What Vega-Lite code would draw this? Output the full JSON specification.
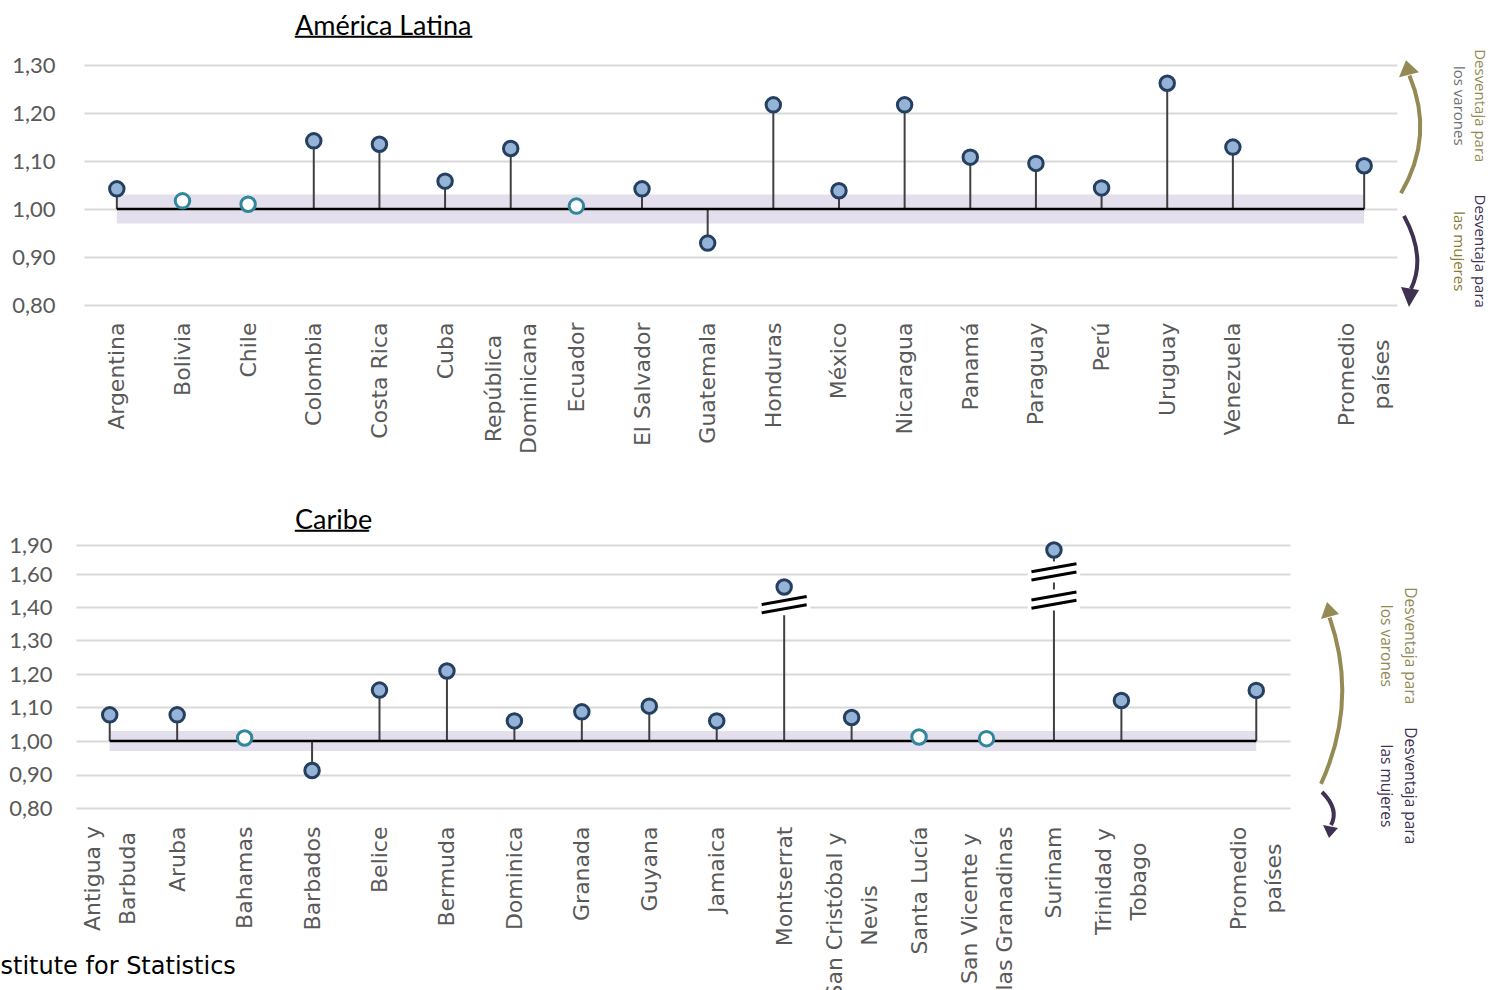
{
  "$schema": "https://vega.github.io/schema/vega-lite/v6.json",
  "padding": {"left": 0, "top": 12, "right": 0, "bottom": 0},
  "background": "white",
  "spacing": 52,
  "config": {
    "view": {"stroke": null},
    "axis": {"domain": false, "ticks": false, "labelColor": "#595959"},
    "axisY": {"grid": true, "gridColor": "#d9d9d9", "gridWidth": 2, "labelFont": "Lato", "labelFontSize": 22, "labelPadding": 29},
    "axisX": {"grid": false, "labelFont": "DejaVu Sans", "labelFontSize": 22, "labelAngle": -90, "labelLineHeight": 35},
    "title": {"font": "Lato", "fontSize": 27, "fontWeight": "normal", "color": "black", "anchor": "start", "frame": "group",
      "subtitleFont": "DejaVu Sans Mono", "subtitleFontSize": 24.5, "subtitleColor": "black", "subtitlePadding": -15}
  },
  "datasets": {
    "datos_al": [
      {"pais": "Argentina", "valor": 1.042},
      {"pais": "Bolivia", "valor": 1.017},
      {"pais": "Chile", "valor": 1.010},
      {"pais": "Colombia", "valor": 1.142},
      {"pais": "Costa Rica", "valor": 1.135},
      {"pais": "Cuba", "valor": 1.058},
      {"pais": "República Dominicana", "valor": 1.126},
      {"pais": "Ecuador", "valor": 1.006},
      {"pais": "El Salvador", "valor": 1.042},
      {"pais": "Guatemala", "valor": 0.929},
      {"pais": "Honduras", "valor": 1.217},
      {"pais": "México", "valor": 1.038},
      {"pais": "Nicaragua", "valor": 1.217},
      {"pais": "Panamá", "valor": 1.108},
      {"pais": "Paraguay", "valor": 1.095},
      {"pais": "Perú", "valor": 1.044},
      {"pais": "Uruguay", "valor": 1.262},
      {"pais": "Venezuela", "valor": 1.129},
      {"pais": "Promedio países", "valor": 1.090}
    ],
    "tramo_al": [{"desde": "Argentina", "hasta": "Promedio países", "inf": 0.97, "sup": 1.03}],
    "flechas_al": [{"sentido": "varones", "y": 1.158}, {"sentido": "mujeres", "y": 0.894}],
    "anot_al": [
      {"texto": "Desventaja para", "linea": 1, "tono": "oliva", "y": 1.215},
      {"texto": "los varones", "linea": 2, "tono": "gris", "y": 1.215},
      {"texto": "Desventaja para", "linea": 1, "tono": "morado", "y": 0.912},
      {"texto": "las mujeres", "linea": 2, "tono": "dorado", "y": 0.912}
    ],
    "datos_caribe": [
      {"pais": "Antigua y Barbuda", "valor": 1.078},
      {"pais": "Aruba", "valor": 1.078},
      {"pais": "Bahamas", "valor": 1.009},
      {"pais": "Barbados", "valor": 0.912},
      {"pais": "Belice", "valor": 1.152},
      {"pais": "Bermuda", "valor": 1.209},
      {"pais": "Dominica", "valor": 1.060},
      {"pais": "Granada", "valor": 1.087},
      {"pais": "Guyana", "valor": 1.104},
      {"pais": "Jamaica", "valor": 1.060},
      {"pais": "Montserrat", "valor": 1.521},
      {"pais": "San Cristóbal y Nevis", "valor": 1.070},
      {"pais": "Santa Lucía", "valor": 1.012},
      {"pais": "San Vicente y las Granadinas", "valor": 1.007},
      {"pais": "Surinam", "valor": 1.848},
      {"pais": "Trinidad y Tobago", "valor": 1.121},
      {"pais": "Promedio países", "valor": 1.151}
    ],
    "tramo_caribe": [{"desde": "Antigua y Barbuda", "hasta": "Promedio países", "inf": 0.97, "sup": 1.03}],
    "cortes_caribe": [
      {"pais": "Montserrat", "corte": 1.414},
      {"pais": "Surinam", "corte": 1.621},
      {"pais": "Surinam", "corte": 1.442}
    ],
    "flechas_caribe": [{"sentido": "varones", "y": 1.06}, {"sentido": "mujeres", "y": 0.8}],
    "anot_caribe": [
      {"texto": "Desventaja para", "linea": 1, "tono": "oliva", "y": 1.284},
      {"texto": "los varones", "linea": 2, "tono": "oliva", "y": 1.284},
      {"texto": "Desventaja para", "linea": 1, "tono": "morado", "y": 0.866},
      {"texto": "las mujeres", "linea": 2, "tono": "morado", "y": 0.866}
    ]
  },
  "vconcat": [
    {
      "spacing": 0,
      "bounds": "flush",
      "hconcat": [
        {
          "width": 1313,
          "height": 240,
          "title": {"text": "América Latina", "subtitle": "────────────", "dx": 211, "offset": 4},
          "encoding": {
            "x": {"type": "nominal", "sort": null,
              "scale": {"type": "point", "padding": 0.5, "domain": ["Argentina","Bolivia","Chile","Colombia","Costa Rica","Cuba","República Dominicana","Ecuador","El Salvador","Guatemala","Honduras","México","Nicaragua","Panamá","Paraguay","Perú","Uruguay","Venezuela"," ","Promedio países"]},
              "axis": {"title": null,
                "labelAlign": {"condition": {"test": "datum.value == 'República Dominicana' || datum.value == 'Promedio países'", "value": "center"}, "value": "right"},
                "labelOffset": {"condition": {"test": "datum.value == 'República Dominicana' || datum.value == 'Promedio países'", "value": -17.5}, "value": 0},
                "labelPadding": {"condition": [{"test": "datum.value == 'República Dominicana'", "value": 83}, {"test": "datum.value == 'Promedio países'", "value": 69}], "value": 17},
                "labelExpr": "(datum.label == 'República Dominicana' || datum.label == 'Promedio países') ? split(datum.label, ' ') : datum.label"}},
            "y": {"type": "quantitative",
              "scale": {"domain": [0.8, 1.3], "nice": false, "zero": false},
              "axis": {"title": null, "values": [0.8, 0.9, 1.0, 1.1, 1.2, 1.3], "labelExpr": "replace(format(datum.value, '.2f'), '.', ',')"}}
          },
          "layer": [
            {
              "data": {"name": "tramo_al"},
              "mark": {"type": "rect", "color": "#e4dfec"},
              "encoding": {"x": {"field": "desde"}, "x2": {"field": "hasta"}, "y": {"field": "inf"}, "y2": {"field": "sup"}}
            },
            {
              "data": {"name": "datos_al"},
              "mark": {"type": "rule", "color": "#404040", "strokeWidth": 2},
              "encoding": {"x": {"field": "pais"}, "y": {"field": "valor"}, "y2": {"datum": 1}}
            },
            {
              "data": {"name": "tramo_al"},
              "mark": {"type": "rule", "color": "black", "strokeWidth": 2.5},
              "encoding": {"x": {"field": "desde"}, "x2": {"field": "hasta"}, "y": {"datum": 1}}
            },
            {
              "data": {"name": "datos_al"},
              "mark": {"type": "point", "shape": "circle", "size": 210, "strokeWidth": 3, "opacity": 1},
              "encoding": {
                "x": {"field": "pais"},
                "y": {"field": "valor"},
                "fill": {"condition": {"test": "datum.valor >= 0.97 && datum.valor <= 1.03", "value": "white"}, "value": "#95b3d7"},
                "stroke": {"condition": {"test": "datum.valor >= 0.97 && datum.valor <= 1.03", "value": "#31859c"}, "value": "#243f60"}
              }
            }
          ]
        },
        {
          "width": 28,
          "height": 240,
          "encoding": {
            "y": {"field": "y", "type": "quantitative", "scale": {"domain": [0.8, 1.3], "nice": false, "zero": false}, "axis": null}
          },
          "layer": [
            {
              "data": {"name": "flechas_al"},
              "transform": [{"filter": "datum.sentido == 'varones'"}],
              "mark": {"type": "point", "shape": "M-0.125,0.75Q0.2975,0.035,-0.02,-0.72", "filled": false, "stroke": "#948a54", "strokeWidth": 4, "size": 25600, "opacity": 1}
            },
            {
              "data": {"name": "flechas_al"},
              "transform": [{"filter": "datum.sentido == 'varones'"}],
              "mark": {"type": "point", "shape": "M-0.0625,-0.9125L0.1,-0.7625L-0.15,-0.7Z", "filled": true, "fill": "#948a54", "strokeWidth": 0, "size": 25600, "opacity": 1}
            },
            {
              "data": {"name": "flechas_al"},
              "transform": [{"filter": "datum.sentido == 'mujeres'"}],
              "mark": {"type": "point", "shape": "M-0.0875,-0.55Q0.19375,-0.03125,0,0.3625", "filled": false, "stroke": "#403152", "strokeWidth": 4, "size": 25600, "opacity": 1}
            },
            {
              "data": {"name": "flechas_al"},
              "transform": [{"filter": "datum.sentido == 'mujeres'"}],
              "mark": {"type": "point", "shape": "M-0.025,0.5875L-0.125,0.3375L0.1,0.375Z", "filled": true, "fill": "#403152", "strokeWidth": 0, "size": 25600, "opacity": 1}
            },
            {
              "data": {"name": "anot_al"},
              "transform": [{"filter": "datum.linea == 1"}],
              "mark": {"type": "text", "angle": 90, "dy": -69, "font": "Open Sans", "fontSize": 15, "align": "center", "baseline": "middle"},
              "encoding": {
                "text": {"field": "texto"},
                "color": {"field": "tono", "type": "nominal", "legend": null, "scale": {"domain": ["oliva", "gris", "morado", "dorado"], "range": ["#948a54", "#6f6f6f", "#403152", "#8a7a30"]}}
              }
            },
            {
              "data": {"name": "anot_al"},
              "transform": [{"filter": "datum.linea == 2"}],
              "mark": {"type": "text", "angle": 90, "dy": -48, "font": "Open Sans", "fontSize": 15, "align": "center", "baseline": "middle"},
              "encoding": {
                "text": {"field": "texto"},
                "color": {"field": "tono", "type": "nominal", "legend": null}
              }
            }
          ]
        }
      ]
    },
    {
      "spacing": 0,
      "bounds": "flush",
      "hconcat": [
        {
          "width": 1206,
          "height": 263,
          "title": {"text": "Caribe", "subtitle": "─────", "dx": 211, "offset": -10},
          "encoding": {
            "x": {"type": "nominal", "sort": null,
              "scale": {"type": "point", "padding": 0.5, "range": [-8, 1206], "domain": ["Antigua y Barbuda","Aruba","Bahamas","Barbados","Belice","Bermuda","Dominica","Granada","Guyana","Jamaica","Montserrat","San Cristóbal y Nevis","Santa Lucía","San Vicente y las Granadinas","Surinam","Trinidad y Tobago"," ","Promedio países"]},
              "axis": {"title": "stitute for Statistics", "titleFont": "DejaVu Sans", "titleFontSize": 24, "titleFontWeight": "normal", "titleColor": "black", "titleAlign": "left", "titleAnchor": "start", "titleBaseline": "alphabetic", "titleX": -84, "titleY": 165,
                "labelAlign": {"condition": {"test": "indexof(datum.value, ' y ') > 0 || datum.value == 'Promedio países'", "value": "center"}, "value": "right"},
                "labelOffset": {"condition": {"test": "indexof(datum.value, ' y ') > 0 || datum.value == 'Promedio países'", "value": -17.5}, "value": 0},
                "labelPadding": {"condition": [
                  {"test": "datum.value == 'Antigua y Barbuda'", "value": 70},
                  {"test": "datum.value == 'San Cristóbal y Nevis'", "value": 107},
                  {"test": "datum.value == 'San Vicente y las Granadinas'", "value": 100},
                  {"test": "datum.value == 'Trinidad y Tobago'", "value": 73},
                  {"test": "datum.value == 'Promedio países'", "value": 70}], "value": 18},
                "labelExpr": "indexof(datum.label, ' y ') > 0 ? [slice(datum.label, 0, indexof(datum.label, ' y ') + 2), slice(datum.label, indexof(datum.label, ' y ') + 3)] : datum.label == 'Promedio países' ? split(datum.label, ' ') : datum.label"}},
            "y": {"type": "quantitative",
              "scale": {"domain": [0.8, 1.4, 1.6, 1.9], "range": [263, 62, 29, 0], "nice": false, "zero": false},
              "axis": {"title": null, "labelPadding": 32, "values": [0.8, 0.9, 1.0, 1.1, 1.2, 1.3, 1.4, 1.6, 1.9], "labelExpr": "replace(format(datum.value, '.2f'), '.', ',')"}}
          },
          "layer": [
            {
              "data": {"name": "tramo_caribe"},
              "mark": {"type": "rect", "color": "#e4dfec"},
              "encoding": {"x": {"field": "desde"}, "x2": {"field": "hasta"}, "y": {"field": "inf"}, "y2": {"field": "sup"}}
            },
            {
              "data": {"name": "datos_caribe"},
              "mark": {"type": "rule", "color": "#404040", "strokeWidth": 2},
              "encoding": {"x": {"field": "pais"}, "y": {"field": "valor"}, "y2": {"datum": 1}}
            },
            {
              "data": {"name": "tramo_caribe"},
              "mark": {"type": "rule", "color": "black", "strokeWidth": 2.5},
              "encoding": {"x": {"field": "desde"}, "x2": {"field": "hasta"}, "y": {"datum": 1}}
            },
            {
              "data": {"name": "cortes_caribe"},
              "mark": {"type": "point", "shape": "M-1.05,-0.42L1.05,-0.42L1.05,0.42L-1.05,0.42Z", "filled": true, "fill": "white", "strokeWidth": 0, "size": 2500, "opacity": 1},
              "encoding": {"x": {"field": "pais"}, "y": {"field": "corte"}}
            },
            {
              "data": {"name": "cortes_caribe"},
              "mark": {"type": "point", "shape": "M-0.9,-0.005L0.9,-0.325M-0.9,0.325L0.9,0.005", "filled": false, "stroke": "black", "strokeWidth": 3, "size": 2500, "opacity": 1},
              "encoding": {"x": {"field": "pais"}, "y": {"field": "corte"}}
            },
            {
              "data": {"name": "datos_caribe"},
              "mark": {"type": "point", "shape": "circle", "size": 210, "strokeWidth": 3, "opacity": 1},
              "encoding": {
                "x": {"field": "pais"},
                "y": {"field": "valor"},
                "fill": {"condition": {"test": "datum.valor >= 0.97 && datum.valor <= 1.03", "value": "white"}, "value": "#95b3d7"},
                "stroke": {"condition": {"test": "datum.valor >= 0.97 && datum.valor <= 1.03", "value": "#31859c"}, "value": "#243f60"}
              }
            }
          ]
        },
        {
          "width": 76,
          "height": 263,
          "encoding": {
            "y": {"field": "y", "type": "quantitative", "scale": {"domain": [0.8, 1.4, 1.6, 1.9], "range": [263, 62, 29, 0], "nice": false, "zero": false}, "axis": null}
          },
          "layer": [
            {
              "data": {"name": "flechas_caribe"},
              "transform": [{"filter": "datum.sentido == 'varones'"}],
              "mark": {"type": "point", "shape": "M-0.0875,0.7875Q0.38375,-0.24875,0.02,-1.29", "filled": false, "stroke": "#948a54", "strokeWidth": 4, "size": 25600, "opacity": 1}
            },
            {
              "data": {"name": "flechas_caribe"},
              "transform": [{"filter": "datum.sentido == 'varones'"}],
              "mark": {"type": "point", "shape": "M-0.0125,-1.4875L-0.0875,-1.275L0.1375,-1.3375Z", "filled": true, "fill": "#948a54", "strokeWidth": 0, "size": 25600, "opacity": 1}
            },
            {
              "data": {"name": "flechas_caribe"},
              "transform": [{"filter": "datum.sentido == 'mujeres'"}],
              "mark": {"type": "point", "shape": "M-0.075,-0.2Q0.14375,0.01875,0.0375,0.2125", "filled": false, "stroke": "#403152", "strokeWidth": 4, "size": 25600, "opacity": 1}
            },
            {
              "data": {"name": "flechas_caribe"},
              "transform": [{"filter": "datum.sentido == 'mujeres'"}],
              "mark": {"type": "point", "shape": "M0.0125,0.375L-0.0625,0.2125L0.125,0.25Z", "filled": true, "fill": "#403152", "strokeWidth": 0, "size": 25600, "opacity": 1}
            },
            {
              "data": {"name": "anot_caribe"},
              "transform": [{"filter": "datum.linea == 1"}],
              "mark": {"type": "text", "angle": 90, "dy": -82, "font": "Open Sans", "fontSize": 15.5, "align": "center", "baseline": "middle"},
              "encoding": {
                "text": {"field": "texto"},
                "color": {"field": "tono", "type": "nominal", "legend": null, "scale": {"domain": ["oliva", "gris", "morado", "dorado"], "range": ["#948a54", "#6f6f6f", "#403152", "#8a7a30"]}}
              }
            },
            {
              "data": {"name": "anot_caribe"},
              "transform": [{"filter": "datum.linea == 2"}],
              "mark": {"type": "text", "angle": 90, "dy": -58, "font": "Open Sans", "fontSize": 15.5, "align": "center", "baseline": "middle"},
              "encoding": {
                "text": {"field": "texto"},
                "color": {"field": "tono", "type": "nominal", "legend": null}
              }
            }
          ]
        }
      ]
    }
  ]
}
